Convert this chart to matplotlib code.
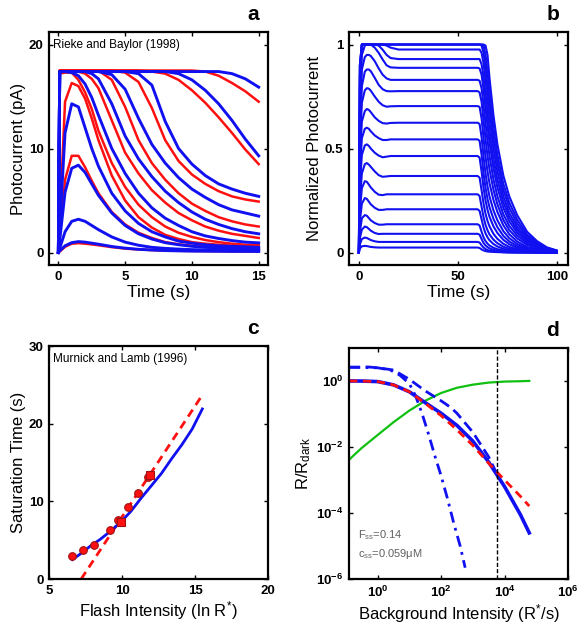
import matplotlib
matplotlib.use("Agg")
import matplotlib.pyplot as plt

plt.rcParams["font.family"] = ["Liberation Sans", "DejaVu Sans"]
plt.rcParams["mathtext.default"] = "regular"

BLUE = "#1010f0"
RED = "#ff1010"
GREEN = "#10c010"

# ---------------- panel a: Rieke and Baylor (1998) ----------------
a_t = [0, 0.1, 0.5, 1, 1.5, 2, 2.5, 3, 4, 5, 6, 7, 8, 9, 10, 11, 12, 13, 14, 15]
a_red = [
    [0, 17.3, 17.5, 17.5, 17.5, 17.5, 17.5, 17.5, 17.5, 17.5, 17.5, 17.5, 17.5, 17.5, 17.5, 17.4, 17.0, 16.3, 15.5, 14.5],
    [0, 17.5, 17.5, 17.5, 17.5, 17.5, 17.5, 17.5, 17.5, 17.5, 17.5, 17.4, 17.2, 16.6, 15.6, 14.4, 13.0, 11.5, 9.9, 8.5],
    [0, 17.5, 17.5, 17.5, 17.5, 17.5, 17.5, 17.5, 17.5, 17.3, 16.4, 13.9, 10.8, 8.8, 7.5, 6.6, 5.9, 5.4, 5.1, 4.9],
    [0, 17.5, 17.5, 17.5, 17.5, 17.5, 17.5, 17.5, 16.6, 14.0, 10.8, 8.6, 7.0, 5.7, 4.7, 4.0, 3.4, 3.0, 2.7, 2.5],
    [0, 17.4, 17.4, 17.4, 17.4, 17.2, 16.7, 15.8, 12.7, 9.6, 7.6, 6.0, 4.8, 3.8, 3.1, 2.5, 2.1, 1.8, 1.6, 1.4],
    [0, 17.2, 17.3, 17.3, 16.6, 15.4, 13.8, 11.7, 8.6, 6.3, 4.6, 3.4, 2.5, 1.9, 1.5, 1.2, 1.0, 0.85, 0.75, 0.7],
    [0, 3.0, 14.5, 16.3, 16.0, 14.8, 12.9, 10.8, 7.4, 5.0, 3.4, 2.4, 1.7, 1.3, 1.0, 0.85, 0.75, 0.65, 0.6, 0.55],
    [0, 1.5, 7.0, 9.3, 9.3, 8.2, 6.9, 5.7, 3.9, 2.7, 1.9, 1.4, 1.0, 0.8, 0.65, 0.55, 0.5, 0.45, 0.42, 0.4],
    [0, 0.1, 0.55, 0.85, 0.9, 0.85, 0.78, 0.7, 0.52, 0.38, 0.3, 0.24, 0.2, 0.17, 0.15, 0.14, 0.13, 0.12, 0.12, 0.11],
]
a_blue = [
    [0, 17.4, 17.4, 17.4, 17.4, 17.4, 17.4, 17.4, 17.4, 17.4, 17.4, 17.4, 17.4, 17.4, 17.4, 17.4, 17.4, 17.2, 16.7, 15.9],
    [0, 17.4, 17.4, 17.4, 17.4, 17.4, 17.4, 17.4, 17.4, 17.4, 17.4, 17.4, 17.4, 17.2, 16.6, 15.6, 14.3, 12.7, 10.9, 9.3],
    [0, 17.4, 17.4, 17.4, 17.4, 17.4, 17.4, 17.4, 17.4, 17.4, 17.2, 16.1, 12.6, 10.0, 8.5, 7.4, 6.6, 6.1, 5.7, 5.4],
    [0, 17.4, 17.4, 17.4, 17.4, 17.4, 17.4, 17.4, 17.1, 15.7, 12.9, 10.4, 8.6, 7.2, 6.1, 5.3, 4.6, 4.1, 3.8, 3.5],
    [0, 17.4, 17.4, 17.4, 17.4, 17.4, 17.2, 16.7, 14.3, 11.2, 9.0, 7.3, 5.9, 4.8, 3.9, 3.2, 2.7, 2.3, 2.0, 1.8],
    [0, 17.4, 17.4, 17.3, 17.0, 16.2, 14.9, 13.2, 10.0, 7.6, 5.7, 4.3, 3.3, 2.6, 2.0, 1.6, 1.35, 1.15, 1.0, 0.93],
    [0, 2.5, 11.5, 14.3, 14.0, 12.0, 10.0, 8.3, 5.7, 4.0, 2.8, 2.0, 1.5, 1.1, 0.9, 0.75, 0.65, 0.6, 0.55, 0.5],
    [0, 1.2, 5.8, 8.1, 8.4, 7.7, 6.6, 5.5, 3.8, 2.6, 1.8, 1.3, 0.95, 0.75, 0.6, 0.5, 0.45, 0.4, 0.37, 0.35],
    [0, 0.4, 2.0, 3.0, 3.2, 3.0, 2.6, 2.2, 1.5, 1.0, 0.7, 0.5, 0.4, 0.33, 0.28, 0.25, 0.23, 0.22, 0.21, 0.2],
    [0, 0.15, 0.65, 0.95, 1.05, 1.0, 0.9, 0.8, 0.58, 0.42, 0.31, 0.24, 0.19, 0.16, 0.14, 0.13, 0.12, 0.11, 0.11, 0.1],
]

# ---------------- panel b: normalized photocurrent ----------------
b_on_t = [0, 0.5, 1.5, 3, 4, 5, 6, 8, 10, 12, 14, 16, 20]
b_on = [
    [0, 0.02, 0.03, 0.032, 0.031, 0.029, 0.027, 0.025, 0.024, 0.024, 0.024, 0.024, 0.024],
    [0, 0.04, 0.065, 0.072, 0.07, 0.065, 0.06, 0.054, 0.051, 0.051, 0.051, 0.051, 0.051],
    [0, 0.07, 0.11, 0.125, 0.122, 0.114, 0.105, 0.094, 0.089, 0.09, 0.09, 0.09, 0.09],
    [0, 0.1, 0.165, 0.18, 0.177, 0.166, 0.155, 0.142, 0.134, 0.134, 0.136, 0.136, 0.136],
    [0, 0.15, 0.235, 0.262, 0.258, 0.245, 0.232, 0.215, 0.205, 0.205, 0.208, 0.208, 0.208],
    [0, 0.2, 0.31, 0.343, 0.34, 0.327, 0.313, 0.292, 0.278, 0.276, 0.28, 0.28, 0.28],
    [0, 0.25, 0.38, 0.425, 0.43, 0.423, 0.412, 0.39, 0.372, 0.364, 0.366, 0.368, 0.368],
    [0, 0.32, 0.47, 0.515, 0.52, 0.513, 0.5, 0.48, 0.466, 0.458, 0.461, 0.464, 0.464],
    [0, 0.38, 0.55, 0.595, 0.6, 0.595, 0.583, 0.563, 0.55, 0.541, 0.541, 0.544, 0.544],
    [0, 0.44, 0.63, 0.68, 0.69, 0.686, 0.675, 0.65, 0.633, 0.622, 0.62, 0.623, 0.624],
    [0, 0.5, 0.72, 0.78, 0.79, 0.788, 0.778, 0.75, 0.725, 0.708, 0.701, 0.703, 0.704],
    [0, 0.56, 0.8, 0.87, 0.88, 0.88, 0.872, 0.84, 0.806, 0.785, 0.776, 0.775, 0.776],
    [0, 0.62, 0.88, 0.94, 0.95, 0.95, 0.945, 0.92, 0.885, 0.855, 0.837, 0.83, 0.83],
    [0, 0.68, 0.95, 0.995, 1.0, 1.0, 1.0, 0.985, 0.96, 0.928, 0.9, 0.89, 0.888],
    [0, 0.8, 1.0, 1.0, 1.0, 1.0, 1.0, 1.0, 0.995, 0.975, 0.95, 0.935, 0.93],
    [0, 0.85, 1.0, 1.0, 1.0, 1.0, 1.0, 1.0, 1.0, 1.0, 0.995, 0.985, 0.976],
    [0, 0.9, 1.0, 1.0, 1.0, 1.0, 1.0, 1.0, 1.0, 1.0, 1.0, 1.0, 1.0],
    [0, 0.9, 1.0, 1.0, 1.0, 1.0, 1.0, 1.0, 1.0, 1.0, 1.0, 1.0, 1.0],
    [0, 0.9, 1.0, 1.0, 1.0, 1.0, 1.0, 1.0, 1.0, 1.0, 1.0, 1.0, 1.0],
]
b_off_t = [60, 61, 62, 63, 64, 65, 66, 68, 70, 73, 76, 80, 85, 90, 95, 100]
b_off = [
    [0.024, 0.022, 0.015, 0.01, 0.007, 0.005, 0.004, 0.003, 0.002, 0.001, 0, 0, 0, 0, 0, 0],
    [0.051, 0.048, 0.035, 0.024, 0.017, 0.012, 0.009, 0.006, 0.004, 0.002, 0.001, 0, 0, 0, 0, 0],
    [0.09, 0.086, 0.065, 0.046, 0.034, 0.026, 0.02, 0.013, 0.009, 0.005, 0.003, 0.002, 0.001, 0, 0, 0],
    [0.136, 0.13, 0.1, 0.073, 0.055, 0.043, 0.034, 0.023, 0.016, 0.01, 0.006, 0.003, 0.002, 0.001, 0, 0],
    [0.208, 0.2, 0.16, 0.12, 0.092, 0.073, 0.059, 0.041, 0.029, 0.018, 0.011, 0.006, 0.003, 0.002, 0.001, 0],
    [0.28, 0.272, 0.22, 0.17, 0.133, 0.107, 0.087, 0.062, 0.045, 0.028, 0.018, 0.01, 0.005, 0.003, 0.001, 0.001],
    [0.368, 0.36, 0.3, 0.235, 0.186, 0.152, 0.126, 0.09, 0.066, 0.042, 0.027, 0.016, 0.008, 0.004, 0.002, 0.001],
    [0.464, 0.456, 0.39, 0.31, 0.25, 0.205, 0.172, 0.126, 0.094, 0.061, 0.04, 0.023, 0.012, 0.006, 0.003, 0.002],
    [0.544, 0.537, 0.47, 0.38, 0.31, 0.258, 0.218, 0.162, 0.122, 0.08, 0.053, 0.031, 0.016, 0.008, 0.004, 0.002],
    [0.624, 0.618, 0.555, 0.46, 0.38, 0.318, 0.27, 0.203, 0.155, 0.103, 0.069, 0.041, 0.021, 0.011, 0.006, 0.003],
    [0.704, 0.7, 0.645, 0.55, 0.46, 0.39, 0.333, 0.253, 0.195, 0.131, 0.088, 0.053, 0.027, 0.014, 0.007, 0.004],
    [0.776, 0.77, 0.725, 0.635, 0.545, 0.465, 0.4, 0.302, 0.232, 0.157, 0.108, 0.068, 0.037, 0.02, 0.01, 0.004],
    [0.83, 0.826, 0.79, 0.71, 0.62, 0.54, 0.465, 0.352, 0.27, 0.184, 0.128, 0.082, 0.045, 0.025, 0.012, 0.005],
    [0.888, 0.885, 0.855, 0.785, 0.695, 0.61, 0.53, 0.405, 0.313, 0.215, 0.15, 0.096, 0.053, 0.029, 0.014, 0.005],
    [0.93, 0.93, 0.905, 0.845, 0.76, 0.67, 0.585, 0.45, 0.35, 0.242, 0.17, 0.109, 0.06, 0.033, 0.016, 0.006],
    [0.976, 0.976, 0.96, 0.91, 0.83, 0.74, 0.65, 0.5, 0.39, 0.27, 0.19, 0.123, 0.068, 0.037, 0.018, 0.007],
    [1.0, 1.0, 0.995, 0.96, 0.89, 0.8, 0.71, 0.55, 0.43, 0.3, 0.215, 0.14, 0.077, 0.042, 0.02, 0.008],
    [1.0, 1.0, 1.0, 0.995, 0.95, 0.87, 0.77, 0.6, 0.47, 0.33, 0.24, 0.158, 0.087, 0.047, 0.022, 0.009],
    [1.0, 1.0, 1.0, 1.0, 0.995, 0.95, 0.84, 0.66, 0.52, 0.37, 0.27, 0.18, 0.1, 0.055, 0.025, 0.01],
]

# ---------------- panel c: Murnick and Lamb (1996) ----------------
c_pts_x = [6.55, 7.35, 8.08, 9.2, 9.75, 10.38, 11.06, 11.75]
c_pts_y = [2.9, 3.7, 4.4, 6.3, 7.6, 9.3, 11.1, 13.2]
c_sq_x = [9.9, 11.9]
c_sq_y = [7.4, 13.4]
c_fit_x = [6.6, 7.2, 7.8, 8.5, 9.2, 9.9, 10.6, 11.3, 12.0, 12.7, 13.4, 14.1, 14.8, 15.5]
c_fit_y = [2.5, 3.3, 4.2, 5.1, 6.15, 7.3, 8.7, 10.4, 12.0, 13.6, 15.5, 17.3, 19.3, 21.9]
c_lin_x = [7.2, 15.5]
c_lin_y = [0.0, 23.7]

# ---------------- panel d: steady-state background ----------------
d_x = [0.126, 0.316, 1, 3.16, 10, 31.6, 100, 316, 1000, 3160, 10000, 31600, 60000]
d_red = [1.0, 0.99, 0.955, 0.76, 0.47, 0.21, 0.089, 0.033, 0.0112, 0.0032, 0.001, 0.00032, 0.000162]
d_blue = [1.0, 0.99, 0.955, 0.76, 0.47, 0.22, 0.105, 0.045, 0.0151, 0.0035, 0.00063, 0.000089, 0.000025]
d_green = [0.0041, 0.0093, 0.0229, 0.056, 0.126, 0.25, 0.43, 0.62, 0.77, 0.89, 0.955, 0.98, 1.0]
d_dash_x = [0.126, 0.5, 1, 3.16, 10, 31.6, 100, 200, 316, 1000, 3160, 5600]
d_dash_y = [2.6, 2.65, 2.5, 2.14, 1.12, 0.5, 0.25, 0.158, 0.105, 0.028, 0.005, 0.0016]
d_dot_x = [0.126, 1, 2.5, 5, 10, 15.8, 25, 40, 63, 100, 158, 250, 400, 575]
d_dot_y = [2.6, 2.5, 2.14, 1.5, 0.83, 0.35, 0.105, 0.025, 0.0056, 0.00135, 0.00028, 0.00005, 0.00001, 0.0000022]
d_vline = 5600

fig = plt.figure(figsize=(5.85, 6.42), dpi=100)
ax_a = fig.add_axes([0.0838, 0.5872, 0.3744, 0.3629])
ax_b = fig.add_axes([0.5966, 0.5872, 0.3744, 0.3629])
ax_c = fig.add_axes([0.0838, 0.0981, 0.3744, 0.3629])
ax_d = fig.add_axes([0.5966, 0.0981, 0.3744, 0.3600])


def style(ax):
    ax.tick_params(direction="in", top=True, right=True, length=3, width=1,
                   labelsize=9.5, pad=4)
    for lab in ax.get_xticklabels() + ax.get_yticklabels():
        lab.set_fontweight("bold")
    for s in ax.spines.values():
        s.set_linewidth(1.6)


# a
for y in a_red:
    ax_a.plot(a_t, y, color=RED, lw=1.8)
for y in a_blue:
    ax_a.plot(a_t, y, color=BLUE, lw=2.1)
ax_a.set_xlim(-0.7, 15.7)
ax_a.set_ylim(-1.2, 21.2)
ax_a.set_xticks([0, 5, 10, 15])
ax_a.set_yticks([0, 10, 20])
ax_a.set_xlabel("Time (s)", fontsize=12.5, labelpad=2)
ax_a.set_ylabel("Photocurrent (pA)", fontsize=12, labelpad=2)
ax_a.text(0.02, 0.97, "Rieke and Baylor (1998)", transform=ax_a.transAxes,
          fontsize=8.5, va="top", ha="left")
style(ax_a)

# b
for on, off in zip(b_on, b_off):
    ax_b.plot(b_on_t + b_off_t, on + off, color=BLUE, lw=1.5)
ax_b.set_xlim(-5, 105.7)
ax_b.set_ylim(-0.06, 1.06)
ax_b.set_xticks([0, 50, 100])
ax_b.set_yticks([0, 0.5, 1])
ax_b.set_yticklabels(["0", "0.5", "1"])
ax_b.set_xlabel("Time (s)", fontsize=12.5, labelpad=2)
ax_b.set_ylabel("Normalized Photocurrent", fontsize=12, labelpad=2)
style(ax_b)

# c
ax_c.plot(c_lin_x, c_lin_y, color=RED, lw=2, ls=(0, (3, 2)))
ax_c.plot(c_fit_x, c_fit_y, color=BLUE, lw=2)
ax_c.plot(c_pts_x, c_pts_y, "o", color=RED, mec="#a01010", ms=5.5, mew=0.8)
ax_c.plot(c_sq_x, c_sq_y, "s", color=RED, mec="#a01010", ms=6, mew=0.8)
ax_c.set_xlim(5, 20)
ax_c.set_ylim(0, 30)
ax_c.set_xticks([5, 10, 15, 20])
ax_c.set_yticks([0, 10, 20, 30])
ax_c.set_xlabel("Flash Intensity (ln R$^{*}$)", fontsize=12, labelpad=2)
ax_c.set_ylabel("Saturation Time (s)", fontsize=12, labelpad=2)
ax_c.text(0.02, 0.97, "Murnick and Lamb (1996)", transform=ax_c.transAxes,
          fontsize=8.5, va="top", ha="left")
style(ax_c)

# d
ax_d.set_xscale("log")
ax_d.set_yscale("log")
ax_d.plot(d_x, d_green, color=GREEN, lw=1.6)
ax_d.plot(d_dot_x, d_dot_y, color=BLUE, lw=2, ls=(0, (4, 2, 1, 2)))
ax_d.plot(d_dash_x, d_dash_y, color=BLUE, lw=2, ls=(0, (4, 2)))
ax_d.plot(d_x, d_blue, color=BLUE, lw=2.6)
ax_d.plot(d_x, d_red, color=RED, lw=2, ls=(0, (3, 2)))
ax_d.axvline(d_vline, color="black", lw=1, ls=(0, (3, 1.5)))
ax_d.set_xlim(0.126, 1e6)
ax_d.set_ylim(1e-6, 1e1)
ax_d.set_xticks([1, 1e2, 1e4, 1e6])
ax_d.set_yticks([1e-6, 1e-4, 1e-2, 1])
ax_d.minorticks_off()
ax_d.set_xlabel("Background Intensity (R$^{*}$/s)", fontsize=12, labelpad=2)
ax_d.set_ylabel("R/R$_{dark}$", fontsize=12, labelpad=2)
ax_d.text(0.04, 0.19, "F$_{ss}$=0.14", transform=ax_d.transAxes,
          fontsize=8, color="#606060", va="center")
ax_d.text(0.04, 0.11, "c$_{ss}$=0.059\u03bcM", transform=ax_d.transAxes,
          fontsize=8, color="#606060", va="center")
style(ax_d)

for ax, lab in [(ax_a, "a"), (ax_b, "b"), (ax_c, "c"), (ax_d, "d")]:
    ax.text(0.93, 1.035, lab, transform=ax.transAxes, fontsize=15,
            fontweight="bold", ha="center", va="bottom")

fig.savefig("out.png", dpi=100)
